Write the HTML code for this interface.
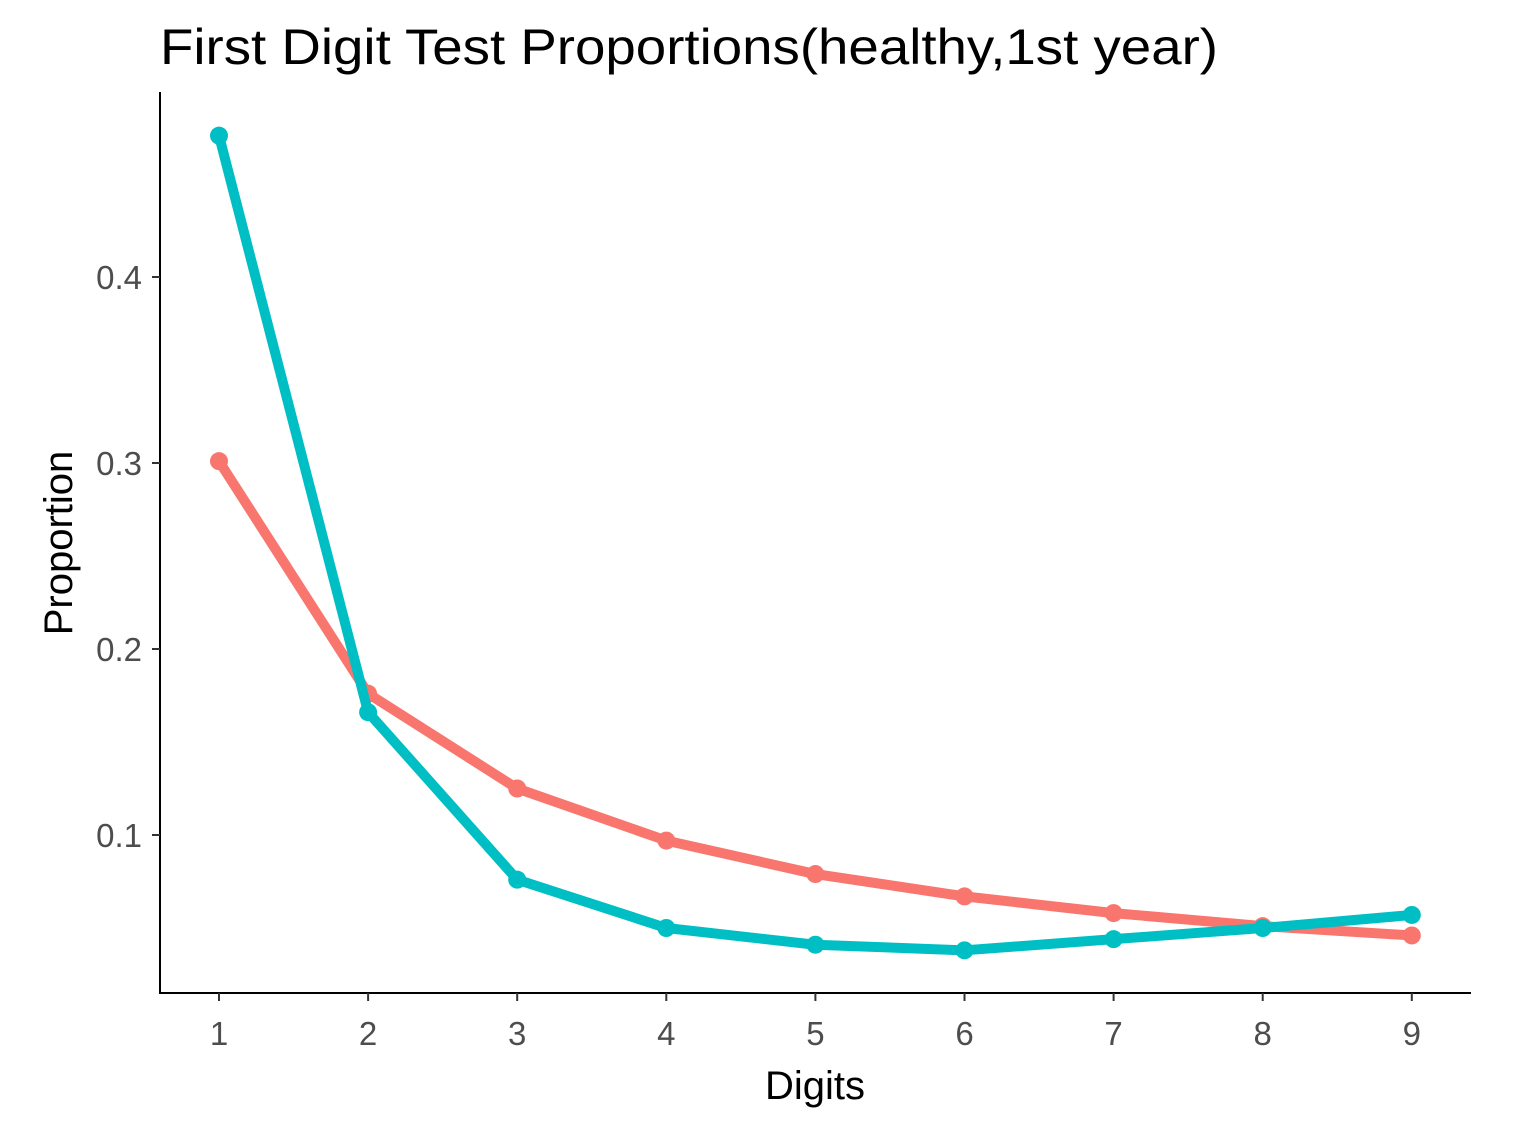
<!DOCTYPE html>
<html><head><meta charset="utf-8"><style>
html,body{margin:0;padding:0;background:#fff;}
svg{display:block;font-family:"Liberation Sans",Arial,sans-serif;}
</style></head><body>
<svg id="chart" width="1522" height="1126" viewBox="0 0 1522 1126">
<text x="160" y="64" font-size="50" textLength="1058" lengthAdjust="spacingAndGlyphs" fill="#000">First Digit Test Proportions(healthy,1st year)</text>
<line x1="160" y1="92" x2="160" y2="994" stroke="#000" stroke-width="2"/>
<line x1="159" y1="993" x2="1471" y2="993" stroke="#000" stroke-width="2"/>
<g id="yticks"></g><g id="xticks"></g><g id="series"></g>
<text transform="translate(72,543) rotate(-90)" text-anchor="middle" font-size="40" fill="#000">Proportion</text>
<text x="815" y="1099" text-anchor="middle" font-size="40" fill="#000">Digits</text>
</svg>
<script>
const digits=[1,2,3,4,5,6,7,8,9];
const benford=[0.301,0.176,0.125,0.097,0.079,0.067,0.058,0.051,0.046];
const observed=[0.476,0.166,0.076,0.050,0.041,0.038,0.044,0.050,0.057];
const yTicks=[0.1,0.2,0.3,0.4];
const NS="http://www.w3.org/2000/svg";
function x(d){return 219+(d-1)*149.1;}
function y(v){return 835-(v-0.1)*1860;}
function mk(tag,attrs,parent){const e=document.createElementNS(NS,tag);for(const k in attrs)e.setAttribute(k,attrs[k]);parent.appendChild(e);return e;}
const yt=document.getElementById('yticks');
yTicks.forEach(t=>{
 const l=mk('line',{x1:152,x2:160,y1:y(t),y2:y(t),stroke:'#333','stroke-width':2},yt);
 
 
 const s=mk('text',{x:142,y:y(t)+12,'text-anchor':'end','font-size':33,fill:'#4d4d4d'},yt);
 s.textContent=t.toFixed(1);
 
 
});
const xt=document.getElementById('xticks');
digits.forEach(d=>{
 const l=mk('line',{x1:x(d),x2:x(d),y1:993,y2:1001,stroke:'#333','stroke-width':2},xt);
 
 
 const s=mk('text',{x:x(d),y:1045,'text-anchor':'middle','font-size':33,fill:'#4d4d4d'},xt);
 s.textContent=d;
 
 
});
const sg=document.getElementById('series');
[[benford,'#F8766D','benford'],[observed,'#00BFC4','observed']].forEach(([vals,c,n])=>{
 const p=mk('polyline',{points:vals.map((v,i)=>x(digits[i])+','+y(v)).join(' '),fill:'none',stroke:c,'stroke-width':10,'stroke-linejoin':'round'},sg);
 
 
 vals.forEach((v,i)=>{
  const ci=mk('circle',{cx:x(digits[i]),cy:y(v),r:9,fill:c},sg);
  
  
 });
});
</script>
</body></html>
